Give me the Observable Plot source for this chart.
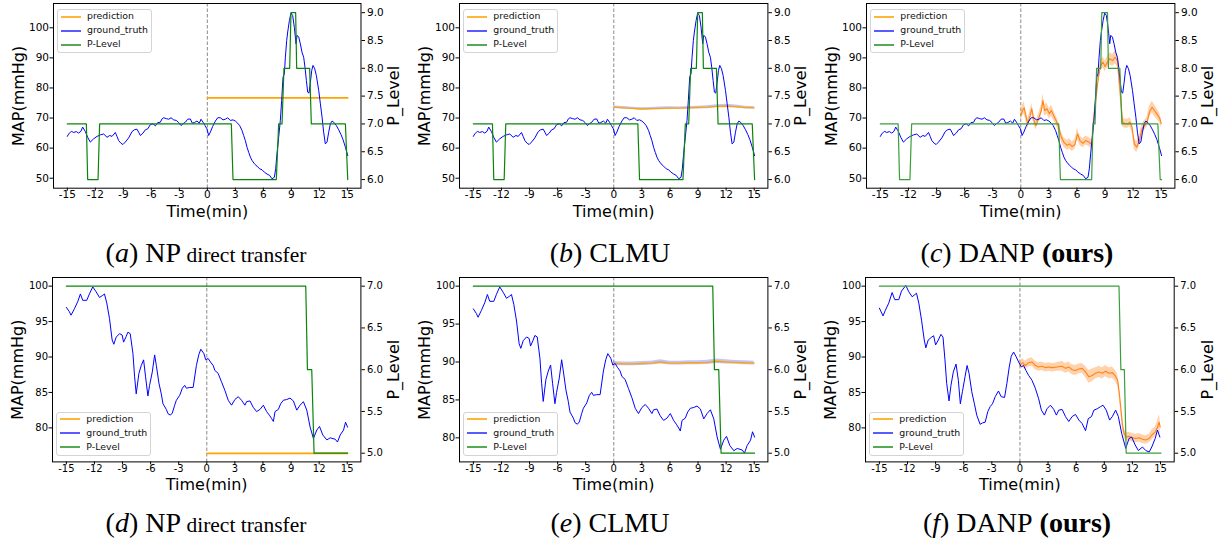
<!DOCTYPE html>
<html><head><meta charset="utf-8">
<script src="https://cdn.jsdelivr.net/npm/d3@7"></script>
<script src="https://cdn.jsdelivr.net/npm/@observablehq/plot@0.6"></script>
<style>
body{margin:0;background:#fff;}
#fig{position:relative;width:1225px;height:541px;overflow:hidden;font-family:"DejaVu Sans";background:#fff;}
.layer{position:absolute;}
.layer svg{position:absolute;left:0;top:0;}
.legend{position:absolute;width:95px;height:44px;box-sizing:border-box;background:rgba(255,255,255,0.85);border:1px solid #d4d4d4;border-radius:3px;font-family:"DejaVu Sans";font-size:9.4px;color:#111;}
.legend .h{position:absolute;left:3px;width:20px;height:2px;}
.legend .t{position:absolute;left:29px;line-height:10px;white-space:nowrap;}
.cap{position:absolute;font-family:"Liberation Serif";font-size:28px;white-space:nowrap;transform:translate(-50%,-50%);color:#000;}
.cap .s{font-size:21.5px;}
</style></head>
<body><div id="fig"></div>
<script>
// ---------------- data ----------------
const xTicks = [-15,-12,-9,-6,-3,0,3,6,9,12,15];
const mapTicksTop = [50,60,70,80,90,100];
const mapTicksBottom = [80,85,90,95,100];
const pTicksTop = [6.0,6.5,7.0,7.5,8.0,8.5,9.0];
const pTicksBottom = [5.0,5.5,6.0,6.5,7.0];
const legendLabels = ["prediction","ground_truth","P-Level"];
const captions = [
  ["a","NP","direct transfer"],["b","CLMU",""],["c","DANP","(ours)"],
  ["d","NP","direct transfer"],["e","CLMU",""],["f","DANP","(ours)"]
];

// ground truth, top row (time min, MAP mmHg)
const gtTop = [[-15,63.9],[-14.86,64.7],[-14.57,65.6],[-14.32,65.2],[-14.04,65.5],[-13.79,65.0],[-13.54,65.6],[-13.36,67.0],[-13.07,65.5],[-12.82,63.6],[-12.54,62.0],[-12.18,63.1],[-11.82,63.9],[-11.46,64.4],[-11.11,64.7],[-10.75,63.6],[-10.46,64.2],[-10.21,63.9],[-9.86,65.2],[-9.68,63.9],[-9.5,62.5],[-9.25,61.6],[-9.04,61.2],[-8.79,62.0],[-8.43,63.4],[-8.07,65.5],[-7.82,66.1],[-7.54,66.3],[-7.36,65.3],[-7.18,64.2],[-6.89,65.0],[-6.64,66.1],[-6.39,66.4],[-6.11,67.8],[-5.82,68.1],[-5.57,67.4],[-5.32,68.5],[-5.04,68.6],[-4.86,69.7],[-4.68,70.1],[-4.39,69.8],[-4.14,69.6],[-3.89,70.1],[-3.61,69.4],[-3.32,69.2],[-3.07,68.5],[-2.82,67.5],[-2.61,68.1],[-2.36,68.6],[-2.11,69.6],[-1.82,69.7],[-1.61,68.3],[-1.39,68.5],[-1.11,69.0],[-0.86,68.3],[-0.68,69.6],[-0.46,68.6],[-0.25,67.5],[-0.04,66.4],[0.14,64.2],[0.32,65.3],[0.57,67.2],[0.86,69.0],[1.11,70.1],[1.39,70.1],[1.68,69.4],[1.93,69.6],[2.18,70.1],[2.46,69.2],[2.75,69.4],[3.0,69.0],[3.25,68.3],[3.46,67.5],[3.71,65.9],[3.89,64.2],[4.07,62.5],[4.25,60.3],[4.43,58.6],[4.61,57.0],[4.79,55.9],[5.04,54.8],[5.32,54.0],[5.61,53.1],[5.86,52.8],[6.11,52.0],[6.39,51.4],[6.68,50.9],[6.93,49.8],[7.18,50.3],[7.32,53.1],[7.46,58.1],[7.64,63.6],[7.82,69.2],[7.96,75.8],[8.11,83.6],[8.25,84.7],[8.36,90.2],[8.5,95.8],[8.61,98.6],[8.79,102.4],[8.96,104.9],[9.14,104.1],[9.32,100.2],[9.5,94.7],[9.61,97.5],[9.79,96.9],[9.96,94.7],[10.14,91.9],[10.32,90.2],[10.46,86.9],[10.61,82.5],[10.75,78.6],[10.89,78.3],[11.04,81.9],[11.18,85.8],[11.32,87.5],[11.5,86.4],[11.68,84.1],[11.93,79.2],[12.11,74.7],[12.29,70.3],[12.46,65.3],[12.64,61.4],[12.82,62.0],[13.0,65.3],[13.18,68.1],[13.36,69.0],[13.54,68.6],[13.82,67.5],[14.07,66.1],[14.32,64.5],[14.54,62.8],[14.79,60.3],[15.04,57.5]];

// ground truth, panels d and e
const gtBottom = [[-15,97.0],[-14.68,96.4],[-14.5,95.9],[-14.14,96.8],[-13.79,97.8],[-13.5,98.9],[-13.25,98.0],[-12.82,98.0],[-12.54,98.9],[-12.18,99.9],[-11.82,99.2],[-11.46,98.4],[-11.11,98.7],[-10.93,98.9],[-10.68,97.6],[-10.39,95.4],[-10.11,92.4],[-9.93,91.8],[-9.68,92.8],[-9.32,93.3],[-9.04,93.1],[-8.89,92.1],[-8.61,92.9],[-8.43,93.5],[-8.18,93.3],[-7.89,90.5],[-7.71,87.2],[-7.54,84.8],[-7.25,87.7],[-7.0,88.8],[-6.75,89.6],[-6.54,87.2],[-6.29,84.5],[-6.11,86.0],[-5.82,87.9],[-5.57,90.3],[-5.39,88.8],[-5.11,86.3],[-4.86,84.8],[-4.68,83.4],[-4.32,82.6],[-4.14,82.0],[-3.89,81.8],[-3.68,82.1],[-3.43,83.2],[-3.25,83.9],[-2.89,84.6],[-2.61,85.6],[-2.36,86.0],[-2.18,85.6],[-1.82,85.7],[-1.46,85.7],[-1.11,88.8],[-0.86,90.3],[-0.64,91.1],[-0.32,90.5],[-0.11,89.6],[0.14,89.8],[0.39,89.3],[0.68,88.8],[0.86,88.1],[1.21,87.7],[1.57,86.5],[1.93,85.3],[2.29,83.9],[2.64,83.2],[3.0,84.0],[3.36,84.4],[3.71,83.9],[4.07,83.2],[4.25,83.7],[4.61,83.8],[4.96,82.9],[5.32,82.3],[5.68,82.6],[6.04,83.2],[6.39,82.3],[6.68,81.8],[6.93,81.3],[7.11,80.9],[7.29,82.3],[7.64,82.6],[7.89,83.4],[8.18,83.9],[8.54,84.0],[8.89,84.2],[9.25,83.8],[9.61,82.5],[9.96,83.2],[10.32,83.7],[10.68,82.5],[11.04,80.1],[11.39,78.5],[11.75,79.7],[12.04,80.2],[12.39,79.0],[12.82,78.3],[13.18,78.6],[13.71,78.4],[13.96,78.0],[14.25,79.0],[14.61,79.7],[14.82,80.8],[15.04,80.1]];

// ground truth, panel f
const gtF = [[-15,96.9],[-14.86,96.5],[-14.61,95.8],[-14.36,96.6],[-14.0,97.6],[-13.64,99.1],[-13.36,98.1],[-12.93,98.1],[-12.64,99.3],[-12.18,100.1],[-11.86,99.2],[-11.5,98.5],[-11.04,99.0],[-10.79,97.6],[-10.5,95.2],[-10.21,92.4],[-10.04,91.3],[-9.79,92.4],[-9.43,92.8],[-9.21,93.0],[-9.0,91.7],[-8.71,92.4],[-8.43,93.2],[-8.21,92.8],[-8.0,89.6],[-7.82,86.3],[-7.57,83.8],[-7.36,86.0],[-7.11,87.9],[-6.82,89.0],[-6.57,86.7],[-6.36,83.4],[-6.14,85.1],[-5.86,87.2],[-5.64,88.8],[-5.43,87.7],[-5.14,85.1],[-4.86,83.4],[-4.61,81.8],[-4.25,80.5],[-4.0,80.7],[-3.71,80.8],[-3.43,82.3],[-3.18,83.0],[-2.93,83.4],[-2.64,84.4],[-2.29,85.2],[-2.0,84.4],[-1.64,84.3],[-1.39,86.3],[-1.14,88.6],[-0.93,90.1],[-0.68,90.7],[-0.43,90.1],[-0.14,89.3],[0.14,88.6],[0.39,88.8],[0.64,88.1],[0.93,87.4],[1.29,86.7],[1.64,85.6],[2.0,84.1],[2.29,82.5],[2.61,81.8],[2.89,82.7],[3.25,83.2],[3.61,82.6],[3.89,81.8],[4.14,82.5],[4.5,82.6],[4.86,81.6],[5.21,80.9],[5.57,81.6],[5.93,81.9],[6.29,81.1],[6.64,80.6],[7.0,79.6],[7.29,81.3],[7.64,81.6],[7.89,82.5],[8.25,82.7],[8.61,83.0],[8.86,83.2],[9.21,82.5],[9.57,81.1],[9.86,81.6],[10.21,82.5],[10.5,81.6],[10.86,79.2],[11.29,77.1],[11.64,78.5],[11.93,78.7],[12.29,77.6],[12.64,76.8],[13.07,77.3],[13.43,76.8],[13.79,76.6],[14.07,77.3],[14.43,78.5],[14.68,79.7],[14.93,78.7]];

// predictions: [time, mean, half-width of uncertainty]
const predA = [[0,76.7,0],[15.04,76.7,0]];
const predB = [[0,73.6,0.4],[1,73.4,0.4],[2,73.2,0.4],[3,73.0,0.4],[4,73.1,0.4],[5,73.2,0.45],[6,73.3,0.45],[7,73.3,0.4],[8,73.4,0.4],[9,73.5,0.45],[10,73.6,0.5],[11,73.9,0.5],[12,74.0,0.6],[13,73.8,0.5],[14,73.5,0.45],[15,73.4,0.4]];
const predC = [[0,70.8,1.6],[0.18,72.5,1.8],[0.36,73.4,2.0],[0.54,70.8,1.7],[0.75,68.1,1.6],[1.0,70.8,1.6],[1.18,73.1,1.8],[1.36,69.8,1.6],[1.61,67.5,1.5],[1.9,69.8,1.5],[2.19,72.5,1.8],[2.37,75.8,2.2],[2.55,72.5,1.9],[2.8,73.1,1.8],[3.05,71.4,1.7],[3.27,72.5,1.8],[3.52,70.8,1.6],[3.77,69.2,1.5],[4.05,67.0,1.5],[4.34,63.6,1.6],[4.59,62.0,1.6],[4.95,60.9,1.6],[5.2,61.4,1.7],[5.49,60.5,1.6],[5.78,61.2,1.6],[6.06,64.7,1.8],[6.32,62.5,1.6],[6.64,61.6,1.5],[6.92,62.5,1.5],[7.28,62.0,1.5],[7.57,61.2,1.6],[7.71,67.0,1.8],[8.0,75.8,2.0],[8.29,83.6,2.0],[8.54,87.5,1.8],[8.79,88.6,1.8],[9.0,87.1,1.8],[9.26,88.6,1.9],[9.51,89.7,2.0],[9.8,89.1,2.0],[10.08,90.2,2.2],[10.33,89.1,2.0],[10.51,82.5,2.0],[10.69,75.8,1.8],[10.87,68.6,1.6],[11.16,68.1,1.5],[11.41,68.1,1.5],[11.66,68.6,1.5],[11.88,67.0,1.6],[12.13,61.4,1.8],[12.38,60.3,1.8],[12.67,62.5,1.7],[12.95,66.4,1.6],[13.2,67.5,1.6],[13.49,68.6,1.7],[13.74,72.0,1.9],[14.03,73.6,2.0],[14.28,72.5,1.9],[14.53,71.4,1.8],[14.82,70.1,1.7],[15.0,68.1,1.6]];
const predD = [[0,76.4,0],[15.04,76.4,0]];
const predE = [[0,89.8,0.25],[1,89.75,0.25],[2,89.75,0.25],[3,89.8,0.25],[4,89.85,0.25],[5,90.0,0.28],[6,89.85,0.25],[7,89.85,0.25],[8,89.9,0.25],[9,89.9,0.25],[10,89.95,0.28],[11,90.1,0.3],[12,90.0,0.28],[13,89.95,0.25],[14,89.9,0.25],[15,89.85,0.25]];
const predF = [[0,88.9,0.5],[0.29,89.2,0.6],[0.57,88.8,0.6],[0.93,89.2,0.6],[1.29,89.3,0.6],[1.64,88.8,0.6],[2.0,88.6,0.6],[2.36,88.7,0.6],[2.71,88.5,0.6],[3.07,88.6,0.6],[3.43,88.5,0.6],[3.96,88.6,0.6],[4.5,88.7,0.7],[4.86,88.4,0.7],[5.21,88.6,0.7],[5.57,88.2,0.7],[5.93,88.1,0.7],[6.29,88.3,0.7],[6.64,88.4,0.7],[7.0,87.9,0.8],[7.36,87.2,0.9],[7.71,87.4,0.9],[8.07,87.7,0.8],[8.43,87.9,0.8],[8.79,87.7,0.8],[9.14,88.0,0.8],[9.5,87.7,0.8],[9.86,87.8,0.8],[10.21,87.3,0.8],[10.43,86.7,0.8],[10.57,85.3,0.7],[10.75,83.0,0.6],[10.93,80.6,0.6],[11.11,79.2,0.6],[11.36,78.7,0.6],[11.64,78.8,0.6],[12.0,78.6,0.6],[12.36,78.5,0.6],[12.71,78.6,0.6],[13.07,78.4,0.6],[13.43,78.3,0.6],[13.79,78.5,0.6],[14.07,79.0,0.7],[14.43,79.4,0.7],[14.68,80.1,0.8],[14.86,80.8,1.1],[14.96,80.1,1.0]];

// P-Level step series: [time, level]
const plAB = [[-15,7],[-12.96,7],[-12.82,6],[-11.71,6],[-11.54,7],[2.57,7],[2.75,6],[7.39,6],[7.64,7],[8.0,7],[8.21,8],[8.82,8],[8.96,9],[9.46,9],[9.57,8],[10.96,8],[11.14,7],[14.79,7],[15.04,6]];
const plC = [[-15,7],[-13.1,7],[-12.95,6],[-11.84,6],[-11.66,7],[4.05,7],[4.23,6],[7.57,6],[7.71,7],[7.93,7],[8.1,8],[8.54,8],[8.65,9],[9.26,9],[9.36,8],[10.58,8],[10.8,7],[14.64,7],[14.89,6],[15.04,6]];
const plDE = [[-15,7],[10.57,7],[10.75,6],[11.21,6],[11.46,5],[15.04,5]];
const plF = [[-15,7],[10.57,7],[10.77,6],[11.14,6],[11.34,5],[15.04,5]];

// ---------------- drawing ----------------
const fig = document.getElementById("fig");
const xDom = [-16.48, 16.46];

const panels = [
  {left:0,     top:0,     fw:307.5, fh:184.7, gt:gtTop,    pred:predA, pl:plAB, yDom:[46.68,108.08], yT:mapTicksTop,    pDom:[5.845,9.165], pT:pTicksTop,    row:0, style:"flat"},
  {left:406.3, top:0,     fw:308.4, fh:184.7, gt:gtTop,    pred:predB, pl:plAB, yDom:[46.68,108.08], yT:mapTicksTop,    pDom:[5.845,9.165], pT:pTicksTop,    row:0, style:"clmu"},
  {left:813.3, top:0,     fw:308.4, fh:184.7, gt:gtTop,    pred:predC, pl:plC,  yDom:[46.68,108.08], yT:mapTicksTop,    pDom:[5.845,9.165], pT:pTicksTop,    row:0, style:"danp"},
  {left:-0.7,  top:274.3, fw:308.4, fh:184.4, gt:gtBottom, pred:predD, pl:plDE, yDom:[75.2,101.22],  yT:mapTicksBottom, pDom:[4.896,7.104], pT:pTicksBottom, row:1, style:"flat"},
  {left:406.3, top:274.3, fw:308.4, fh:184.4, gt:gtBottom, pred:predE, pl:plDE, yDom:[76.83,101.14], yT:mapTicksBottom, pDom:[4.896,7.104], pT:pTicksBottom, row:1, style:"clmu"},
  {left:812.3, top:274.3, fw:308.7, fh:184.4, gt:gtF,      pred:predF, pl:plF,  yDom:[75.2,101.22],  yT:mapTicksBottom, pDom:[4.896,7.104], pT:pTicksBottom, row:1, style:"danp"}
];

const ML = 53, MT = 3;
panels.forEach((p, i) => {
  const W = 410, H = MT + p.fh + 40;
  const fs = p.row === 0 ? 10.5 : 10;
  const base = {
    width: W, height: H,
    marginLeft: ML, marginRight: W - ML - p.fw, marginTop: MT, marginBottom: H - MT - p.fh,
    style: {fontFamily: "DejaVu Sans", color: "black", background: "transparent", overflow: "visible"}
  };
  const gt = p.gt.map(([t, v]) => ({t, v}));
  const pred = p.pred.map(([t, v, h]) => ({t, v, lo: v - h, hi: v + h}));
  const pl = p.pl.map(([t, v]) => ({t, v}));

  let predColor = "#ffa500", predW = 1.6, bandFill = null, bandOp = 0, plColor = "#0a850a";
  if (p.style === "clmu") { predW = 1.3; bandFill = "#7a7aff"; bandOp = 0.45; }
  if (p.style === "danp") { predColor = "#ff8418"; predW = 1.1; bandFill = "#ffa55a"; bandOp = 0.5; plColor = "#3a9e3a"; }

  const leftPlot = Plot.plot({
    ...base,
    x: {domain: xDom},
    y: {domain: p.yDom},
    marks: [
      Plot.ruleX([0], {stroke: "#8a8a8a", strokeWidth: 1, strokeDasharray: "3.5,2"}),
      bandFill ? Plot.areaY(pred, {x: "t", y1: "lo", y2: "hi", fill: bandFill, fillOpacity: bandOp}) : null,
      Plot.line(pred, {x: "t", y: "v", stroke: predColor, strokeWidth: predW}),
      Plot.line(gt, {x: "t", y: "v", stroke: "#0000ff", strokeWidth: 1}),
      Plot.axisX({ticks: xTicks, tickFormat: d => String(d), tickSize: 3, tickPadding: -0.5, fontSize: fs, label: null}),
      Plot.axisY({anchor: "left", ticks: p.yT, tickFormat: d => String(d), tickSize: 3.5, tickPadding: 1, fontSize: fs, label: null}),
      Plot.frame({stroke: "black", strokeWidth: 1}),
      Plot.text(["MAP(mmHg)"], {frameAnchor: "left", dx: -34.7, rotate: -90, textAnchor: "middle", lineAnchor: "middle", fontSize: 16}),
      Plot.text(["Time(min)"], {frameAnchor: "bottom", dy: 23.3, textAnchor: "middle", lineAnchor: "middle", fontSize: 16})
    ]
  });
  const rightPlot = Plot.plot({
    ...base,
    x: {domain: xDom, axis: null},
    y: {domain: p.pDom},
    marks: [
      Plot.line(pl, {x: "t", y: "v", stroke: plColor, strokeWidth: 1.2}),
      Plot.axisY({anchor: "right", ticks: p.pT, tickFormat: d3.format(".1f"), tickSize: 3.5, tickPadding: 2.5, fontSize: fs, label: null}),
      Plot.text(["P_Level"], {frameAnchor: "right", dx: 33.3, rotate: -90, textAnchor: "middle", lineAnchor: "middle", fontSize: 16})
    ]
  });
  const layer = document.createElement("div");
  layer.className = "layer";
  layer.style.left = p.left + "px";
  layer.style.top = p.top + "px";
  layer.style.width = W + "px";
  layer.style.height = H + "px";
  layer.appendChild(leftPlot);
  layer.appendChild(rightPlot);
  fig.appendChild(layer);

  // legend
  const lg = document.createElement("div");
  lg.className = "legend";
  const lgLeft = p.left + ML + 4;
  const lgTop = p.row === 0 ? p.top + MT + 6 : p.top + MT + p.fh - 6 - 44;
  lg.style.left = lgLeft + "px";
  lg.style.top = lgTop + "px";
  const lgColors = ["#ffb53a", "#5a5aff", "#55aa55"];
  legendLabels.forEach((lab, j) => {
    const cy = 6.5 + j * 14;
    const h = document.createElement("div");
    h.className = "h"; h.style.top = (cy - 1) + "px"; h.style.background = lgColors[j];
    const t = document.createElement("div");
    t.className = "t"; t.style.top = (cy - 5.5) + "px"; t.textContent = lab;
    lg.appendChild(h); lg.appendChild(t);
  });
  fig.appendChild(lg);
});

// captions
const capPos = [[206,253],[610,253],[1017,253],[206,523],[610,523],[1017,523]];
captions.forEach(([letter, name, extra], i) => {
  const c = document.createElement("div");
  c.className = "cap";
  c.style.left = capPos[i][0] + "px";
  c.style.top = capPos[i][1] + "px";
  const a = document.createElement("span");
  a.innerHTML = "(<i>" + letter + "</i>) " + name;
  c.appendChild(a);
  if (extra === "direct transfer") {
    const s = document.createElement("span"); s.className = "s"; s.textContent = " " + extra; c.appendChild(s);
  } else if (extra) {
    const b = document.createElement("b"); b.textContent = " " + extra; c.appendChild(b);
  }
  fig.appendChild(c);
});
</script></body></html>
